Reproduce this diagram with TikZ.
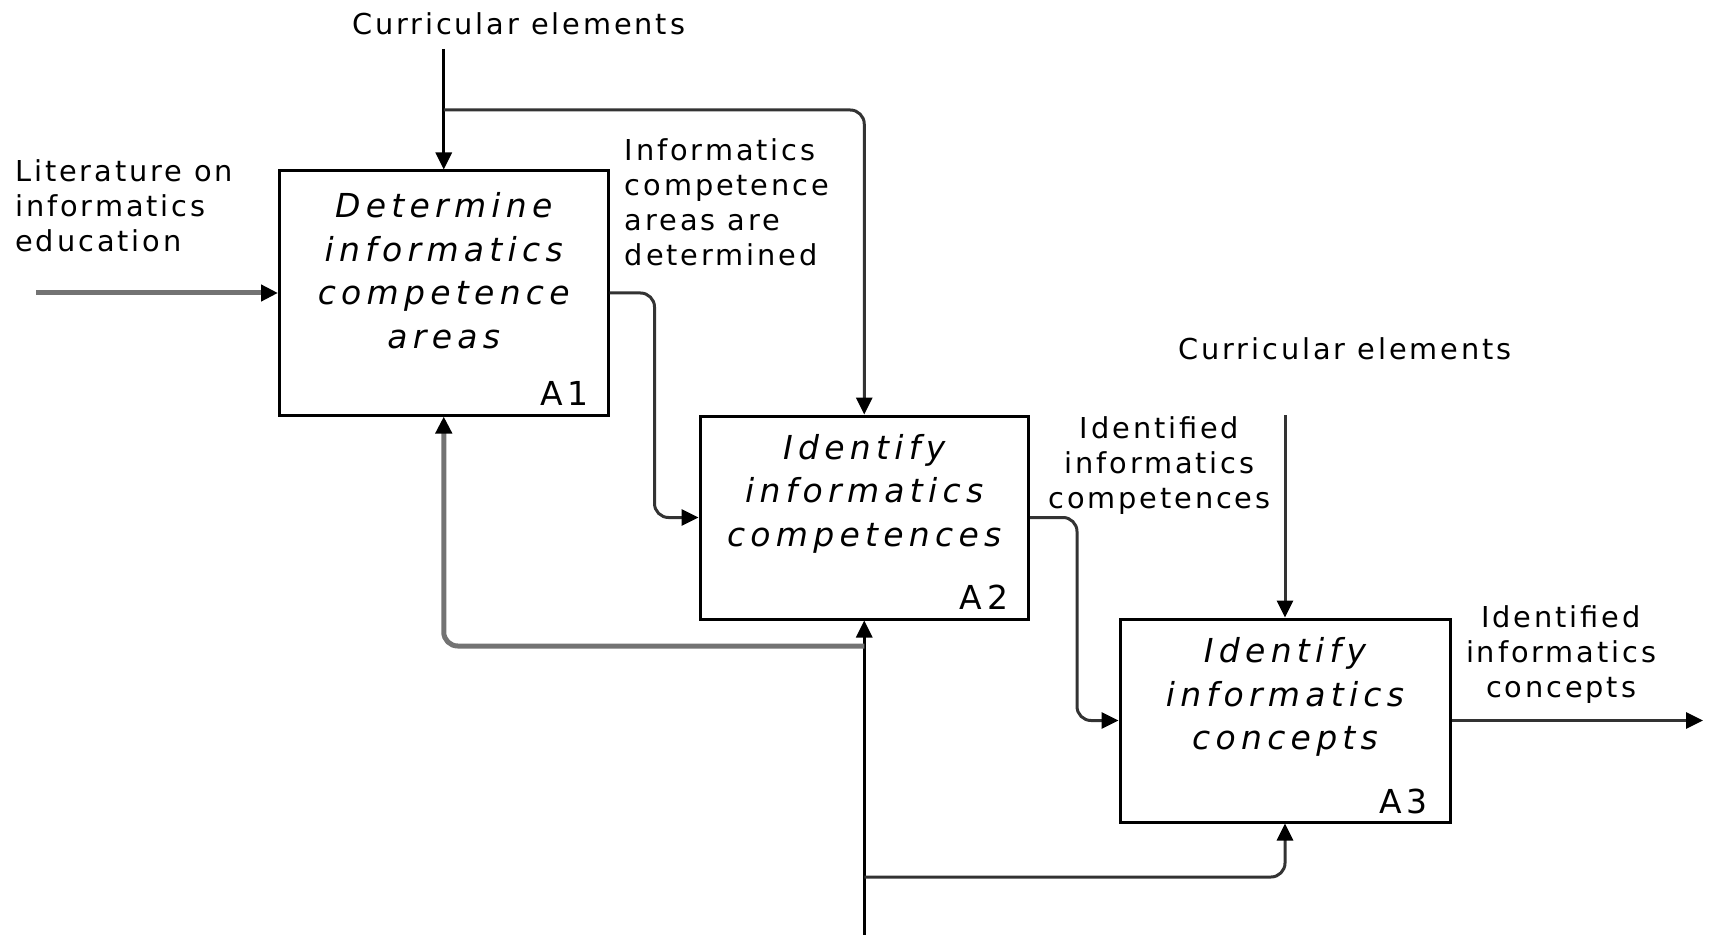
\documentclass[tikz,border=0pt]{standalone}
\usepackage{fontspec}
\setmainfont{DejaVu Sans}
\newfontfamily\lblfont[LetterSpace=10]{DejaVu Sans}
\newfontfamily\procfont[LetterSpace=16]{DejaVu Sans}
\usetikzlibrary{arrows.meta}

\begin{document}
\begin{tikzpicture}[x=0.5pt,y=-0.5pt,
  proc/.style={draw=black, line width=1.5pt, fill=white, inner sep=0pt},
  ptext/.style={font=\procfont\itshape\fontsize{16.5}{21.8}\selectfont, align=center, inner sep=0pt},
  idl/.style={font=\procfont\fontsize{16.5}{19}\selectfont, inner sep=0pt},
  lbl/.style={font=\lblfont\fontsize{14.4}{17.5}\selectfont, inner sep=0pt},
  tip/.style={-{Triangle[length=8.5pt,width=8pt,color=black]}},
  flow/.style={draw=black!80, line width=1.5pt, tip, rounded corners=7pt},
  heavy/.style={draw=black!55, line width=2.5pt, tip, rounded corners=7pt}]
\useasboundingbox (0,0) rectangle (1712,935);

% activity boxes
\node[proc, minimum width=164.25pt, minimum height=122pt] (A1) at (443.75,293) {};
\node[proc, minimum width=164.25pt, minimum height=101.5pt] (A2) at (864.25,517.5) {};
\node[proc, minimum width=165pt, minimum height=101.5pt] (A3) at (1285,720.5) {};

% activity names and numbers
\node[ptext] (t1) at (443.75,270.7) {Determine\\informatics\\competence\\areas};
\node[ptext] (t2) at (864.25,493.5) {Identify\\informatics\\competences};
\node[ptext] (t3) at (1285,697) {Identify\\informatics\\concepts};
\node[idl] (n1) at ([shift={(-45,-23)}]A1.south east) {A1};
\node[idl] (n2) at ([shift={(-46,-23)}]A2.south east) {A2};
\node[idl] (n3) at ([shift={(-48,-22)}]A3.south east) {A3};

% arrow labels
\node[lbl] (c1) at (518.6,24) {Curricular elements};
\node[lbl] (c2) at (1345,349) {Curricular elements};
\node[lbl, align=left, anchor=west] (lit) at (15,206) {Literature on\\informatics\\education};
\node[lbl, align=left, anchor=west] (o1) at (624.5,202) {Informatics\\competence\\areas are\\determined};
\node[lbl, align=center] (o2) at (1159.5,466) {Identified\\informatics\\competences};
\node[lbl, align=center] (o3) at (1561,655) {Identified\\informatics\\concepts};

% free ends and junctions
\coordinate (c1s) at (443.75,49);
\coordinate (c1b) at (443.75,110);
\coordinate (c2s) at (1285,415);
\coordinate (in1) at (36,293);
\coordinate (out3) at (1703,720.5);
\coordinate (mb) at (864.25,935);
\coordinate (m1) at (864.25,646);
\coordinate (m3) at (864.25,877);

% controls
\draw[flow, draw=black] (c1s) -- (A1.north);
\draw[flow] (c1b) -| (A2.north);
\draw[flow] (c2s) -- (A3.north);

% inputs and outputs
\draw[heavy] (in1) -- (A1.west);
\draw[flow] (A1.east) -- ++(45,0) |- (A2.west);
\draw[flow] (A2.east) -- ++(47,0) |- (A3.west);
\draw[flow] (A3.east) -- (out3);

% mechanisms
\draw[flow, draw=black] (mb) -- (A2.south);
\draw[heavy] (m1) -| (A1.south);
\draw[flow] (m3) -| (A3.south);
\end{tikzpicture}
\end{document}
